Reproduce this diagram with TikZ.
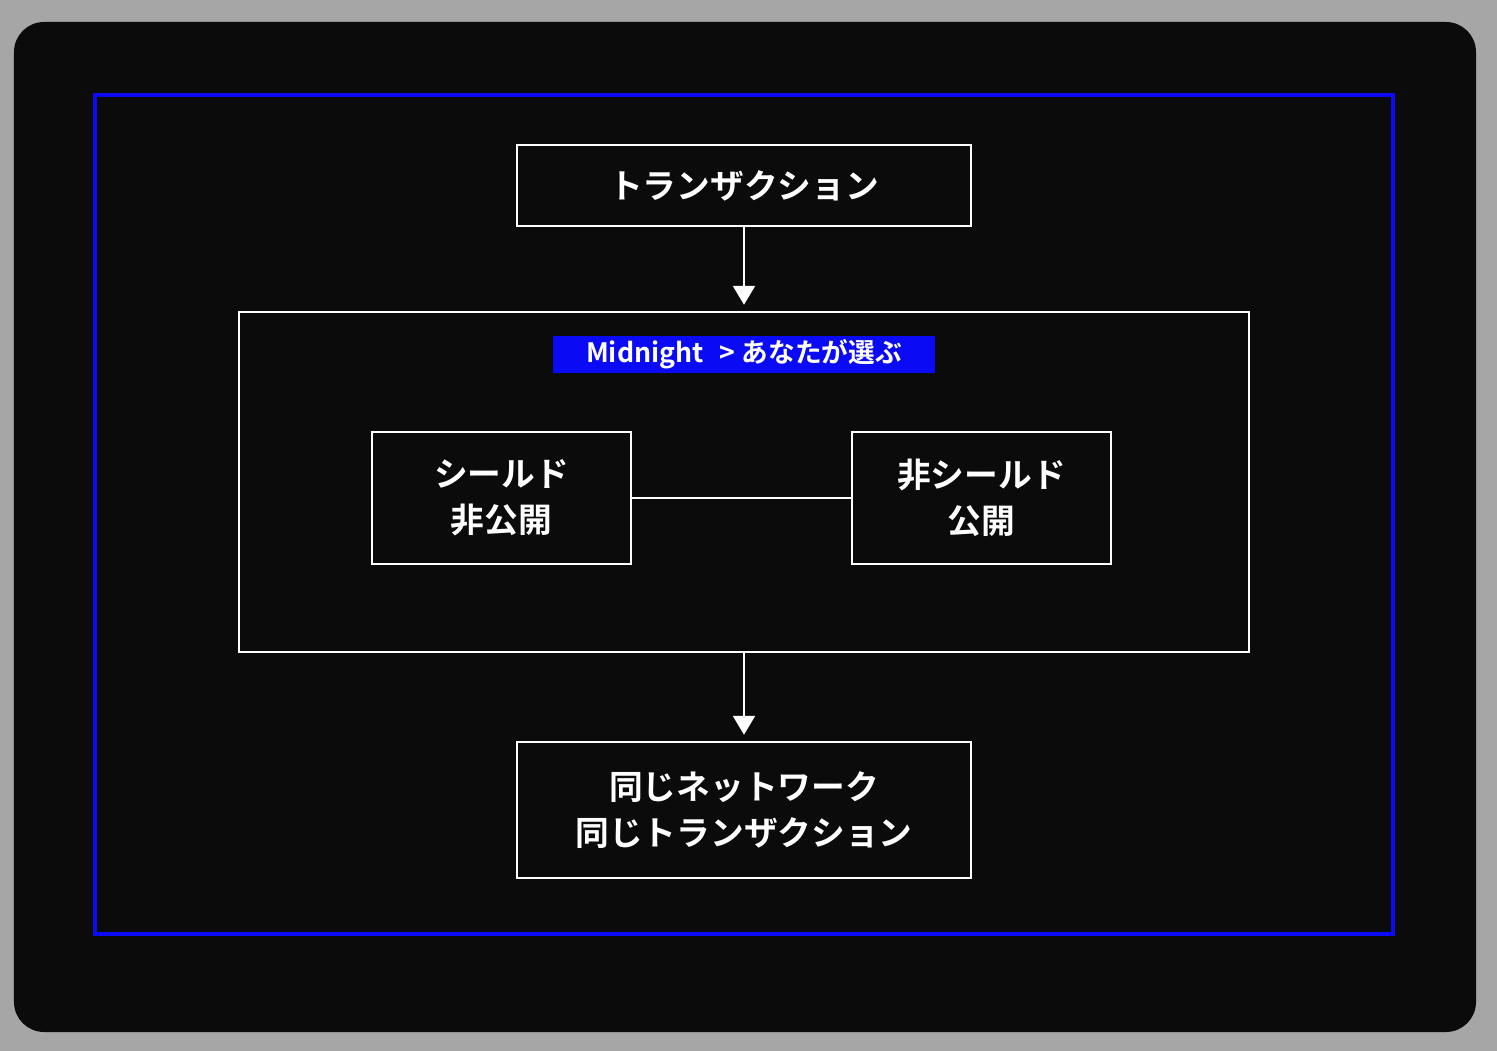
\documentclass[tikz,border=0pt]{standalone}
\usepackage{fontspec}
\setmainfont{Noto Sans CJK JP}[BoldFont={* Bold}]
\usepackage{xcolor}
\usetikzlibrary{arrows.meta, positioning}
\definecolor{frame}{HTML}{A6A6A6}
\definecolor{panel}{HTML}{0B0B0B}
\definecolor{midblue}{HTML}{0A0AF5}

\begin{document}
\begin{tikzpicture}[
    box/.style={rectangle, draw=white, line width=0.7pt, inner sep=0pt, align=center, text=white, font=\fontsize{9.6}{13}\selectfont\bfseries},
    tag/.style={rectangle, fill=midblue, inner sep=0pt, minimum width=3.82cm, minimum height=0.37cm, text=white, font=\fontsize{7.6}{9}\selectfont\bfseries},
    arrow/.style={-{Triangle[width=0.22cm, length=0.19cm]}, draw=white, line width=0.7pt, shorten >=0.06cm}
]
    % background and panel
    \fill[frame] (0,0) rectangle (14.97,-10.51);
    \fill[panel, rounded corners=0.3cm] (0.14,-0.22) rectangle (14.76,-10.32);
    \draw[midblue, line width=1.1pt] (0.95,-0.95) rectangle (13.93,-9.34);

    \node[box, minimum width=4.54cm, minimum height=0.81cm] (tx) at (7.44,-1.855) {トランザクション};
    \node[box, minimum width=10.10cm, minimum height=3.40cm] (choice) at (7.44,-4.82) {};
    \node[tag] (who) at (7.44,-3.545) {Midnight\hspace{0.6em}> あなたが選ぶ};
    \node[box, minimum width=2.59cm, minimum height=1.32cm] (shielded) at (5.015,-4.98) {シールド\\非公開};
    \node[box, minimum width=2.59cm, minimum height=1.32cm] (unshielded) at (9.815,-4.98) {非シールド\\公開};
    \node[box, minimum width=4.54cm, minimum height=1.36cm] (same) at (7.44,-8.10) {同じネットワーク\\同じトランザクション};

    \draw[arrow] (tx) -- (choice);
    \draw[white, line width=0.7pt] (shielded) -- (unshielded);
    \draw[arrow] (choice) -- (same);
\end{tikzpicture}
\end{document}
